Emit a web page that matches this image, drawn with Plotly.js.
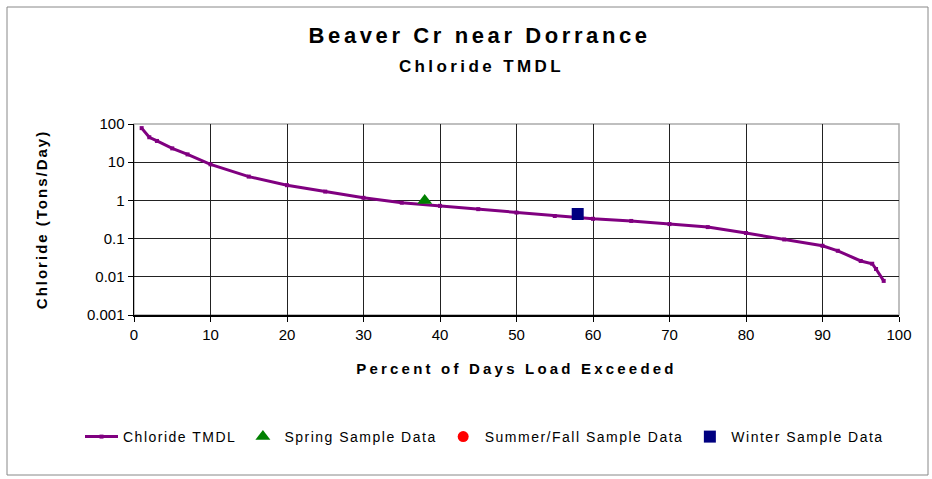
<!DOCTYPE html>
<html>
<head>
<meta charset="utf-8">
<script src="https://cdn.plot.ly/plotly-3.0.1.min.js"></script>
<style>
body{margin:0;padding:0;background:#fff;}
#chart{width:932px;height:479px;}
g.annotation[data-index="0"] text{letter-spacing:3.6px;}
g.annotation[data-index="1"] text{letter-spacing:3.4px;}
text.xtitle{letter-spacing:3.2px;}
text.ytitle{letter-spacing:2px;}
text.legendtext{letter-spacing:1.5px;}
</style>
</head>
<body>
<div id="chart"></div>
<script>
var tmdlX = [1, 2, 3, 5, 7, 10, 15, 20, 25, 30, 35, 40, 45, 50, 55, 60, 65, 70, 75, 80, 85, 90, 92, 95, 96.5, 97, 98];
var tmdlY = [78, 45, 36, 23, 16, 8.8, 4.2, 2.5, 1.7, 1.17, 0.87, 0.72, 0.59, 0.48, 0.39, 0.33, 0.29, 0.24, 0.20, 0.14, 0.095, 0.065, 0.048, 0.026, 0.022, 0.016, 0.0078];
var springX = [38];
var springY = [1.0];
var summerX = [];
var summerY = [];
var winterX = [58];
var winterY = [0.44];
var yTickVals = [0.001, 0.01, 0.1, 1, 10, 100];
var yTickText = ['0.001', '0.01', '0.1', '1', '10', '100'];

var font = 'Liberation Sans, Arial, sans-serif';
var traces = [
  {x: tmdlX, y: tmdlY, name: 'Chloride TMDL', type: 'scatter', mode: 'lines+markers',
   line: {color: '#800080', width: 3}, marker: {symbol: 'square', size: 4, color: '#800080'}},
  {x: springX, y: springY, name: 'Spring Sample Data', type: 'scatter', mode: 'markers',
   marker: {symbol: 'triangle-up', size: 13, color: '#008000'}},
  {x: summerX.length ? summerX : [null], y: summerY.length ? summerY : [null], name: 'Summer/Fall Sample Data', type: 'scatter', mode: 'markers',
   marker: {symbol: 'circle', size: 11, color: '#ff0000'}},
  {x: winterX, y: winterY, name: 'Winter Sample Data', type: 'scatter', mode: 'markers',
   marker: {symbol: 'square', size: 12, color: '#000080'}}
];
var W = 765, H = 191;
var layout = {
  width: 932, height: 479,
  margin: {l: 134, r: 33, t: 124, b: 164},
  paper_bgcolor: '#fff', plot_bgcolor: '#fff',
  font: {family: font, color: '#000', size: 15},
  showlegend: true,
  legend: {orientation: 'h', x: (80 - 134) / W, xanchor: 'left',
           y: (315 - 437) / H, yanchor: 'middle',
           font: {size: 14, family: font}, itemwidth: 33, traceorder: 'normal'},
  xaxis: {range: [0, 100], dtick: 10, tick0: 0, showgrid: true, gridcolor: '#222', gridwidth: 1,
          showline: true, linecolor: '#000', linewidth: 1.5, ticks: 'outside', ticklen: 5,
          tickcolor: '#000', zeroline: false, tickfont: {size: 15},
          title: {text: 'Percent of Days Load Exceeded', font: {size: 15, family: font, weight: 'bold'}, standoff: 22}},
  yaxis: {type: 'log', range: [-3, 2], tickvals: yTickVals, ticktext: yTickText,
          showgrid: true, gridcolor: '#222', gridwidth: 1,
          showline: true, linecolor: '#000', linewidth: 1.5, ticks: 'outside', ticklen: 5,
          tickcolor: '#000', zeroline: false, tickfont: {size: 15},
          title: {text: 'Chloride (Tons/Day)', font: {size: 15, family: font, weight: 'bold'}, standoff: 35}},
  annotations: [
    {text: '<b>Beaver Cr near Dorrance</b>', xref: 'paper', yref: 'paper', x: (479 - 134) / W, y: (315 - 36) / H,
     xanchor: 'center', yanchor: 'middle', showarrow: false, font: {size: 22, family: font}},
    {text: '<b>Chloride TMDL</b>', xref: 'paper', yref: 'paper', x: (481 - 134) / W, y: (315 - 66) / H,
     xanchor: 'center', yanchor: 'middle', showarrow: false, font: {size: 17, family: font}}
  ],
  shapes: [
    {type: 'rect', xref: 'paper', yref: 'paper', x0: (7 - 134) / W, x1: (928 - 134) / W, y0: (315 - 475) / H, y1: (315 - 7) / H,
     line: {color: '#888', width: 1}, layer: 'below'},
    {type: 'rect', xref: 'paper', yref: 'paper', x0: 0, x1: 1, y0: 0, y1: 1,
     line: {color: '#aaa', width: 1.5}, layer: 'below'}
  ]
};
Plotly.newPlot('chart', traces, layout, {displayModeBar: false, staticPlot: true});
</script>
</body>
</html>
